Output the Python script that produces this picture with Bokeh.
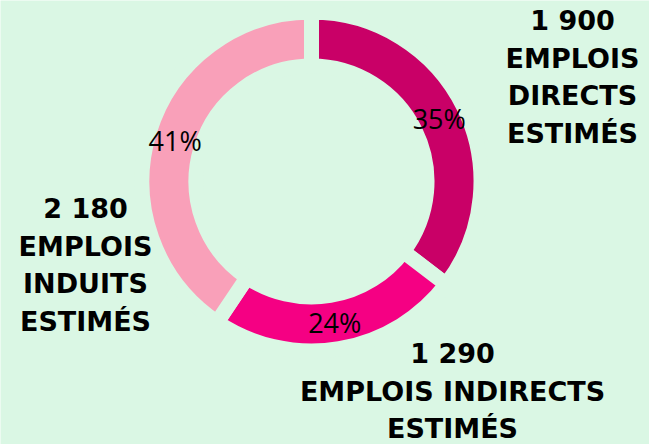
import math
from bokeh.plotting import figure
from bokeh.models import ColumnDataSource
from bokeh.core.properties import value
from bokeh.embed import file_html
from bokeh.resources import INLINE

# ---- data ----
categories = ["Emplois directs", "Emplois indirects", "Emplois induits"]
jobs = [1900, 1290, 2180]
count_labels = ["1 900", "1 290", "2 180"]
description_lines = [
    ["EMPLOIS", "DIRECTS", "ESTIMÉS"],
    ["EMPLOIS INDIRECTS", "ESTIMÉS"],
    ["EMPLOIS", "INDUITS", "ESTIMÉS"],
]
colors = ["#C90067", "#F50083", "#F9A0B9"]

BG = "#DAF7E4"
W, H = 649, 444

# ---- layout constants (pixel space, y measured from top) ----
CX, CY = 311, 181
R_OUT, R_IN = 162, 123
GAP_PX = 15
LABEL_R = (R_OUT + R_IN) / 2
block_anchor = [(572, 20), (452, 353), (85, 208)]   # centre x, first-line y
LINE_STEP = 37.7

p = figure(width=W, height=H, x_range=(0, W), y_range=(0, H),
           output_backend="svg", toolbar_location=None, min_border=0)
p.axis.visible = False
p.grid.visible = False
p.outline_line_color = None
p.background_fill_color = BG
p.border_fill_color = BG

total = sum(jobs)
fracs = [v / total for v in jobs]
starts, ends, mids = [], [], []
a = math.pi / 2
for f in fracs:
    b = a - 2 * math.pi * f
    starts.append(b)
    ends.append(a)
    mids.append((a + b) / 2)
    a = b

half = GAP_PX / 2
src = ColumnDataSource(dict(start=starts, end=ends, color=colors, cat=categories))
p.annular_wedge(x=CX, y=H - CY, inner_radius=R_IN - half, outer_radius=R_OUT + half,
                start_angle="start", end_angle="end", fill_color="color",
                line_color=BG, line_width=GAP_PX, source=src)

# percentage labels on the ring
pct = [f"{round(f * 100)}%" for f in fracs]
px = [CX + LABEL_R * math.cos(m) for m in mids]
py = [H - CY + LABEL_R * math.sin(m) for m in mids]
p.text(x=px, y=py, text=pct, text_align="center", text_baseline="middle",
       text_font=value("Open Sans"), text_font_size="27px", text_color="black")

# category labels
tx, ty, tt = [], [], []
for i in range(len(jobs)):
    bx, by = block_anchor[i]
    lines = [count_labels[i]] + description_lines[i]
    for k, line in enumerate(lines):
        tx.append(bx)
        ty.append(H - (by + k * LINE_STEP))
        tt.append(line)
p.text(x=tx, y=ty, text=tt, text_align="center", text_baseline="middle",
       text_font=value("DejaVu Sans"), text_font_style="bold",
       text_font_size="27px", text_color="black")

open("out.html", "w").write(file_html(p, INLINE))
